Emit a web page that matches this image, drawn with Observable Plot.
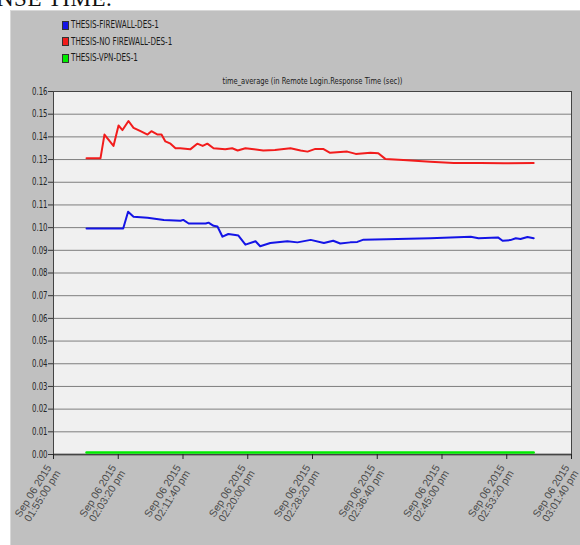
<!DOCTYPE html>
<html>
<head>
<meta charset="utf-8">
<script src="https://cdn.jsdelivr.net/npm/d3@7"></script>
<script src="https://cdn.jsdelivr.net/npm/@observablehq/plot@0.6"></script>
<style>
  html, body { margin: 0; padding: 0; background: #fff; }
  #page { position: relative; width: 580px; height: 545px; overflow: hidden; }
  #panel { position: absolute; left: 10px; top: 10px; right: 0; bottom: 0; background: #c0c0c0;
           border-left: 1px solid #d8d8d8; border-top: 1px solid #d8d8d8; }
  #head { position: absolute; left: -3px; top: -14px; font: 23px "Liberation Serif", serif; color: #111; letter-spacing: 0.5px; }
  #legend { position: relative; height: 72px; box-sizing: border-box; padding: 17px 0 0 62px;
            font-family: "Liberation Sans Narrow", "DejaVu Sans Condensed", sans-serif; font-size: 10px; color: #1a1a1a; }
  .row { height: 16.5px; line-height: 16.5px; display: flex; align-items: center; }
  .sw { width: 5px; height: 7px; border: 1px solid #333; margin-right: 2px; flex: none; }
  .lt { display: inline-block; transform: scaleX(0.8); transform-origin: 0 50%; white-space: nowrap; }
  #chart { position: relative; }
</style>
</head>
<body>
<div id="page">
  <div id="panel"></div>
  <div id="head">NSE TIME.</div>
  <div id="legend"></div>
  <div id="chart"></div>
</div>
<script>
// ---- data ----
const seriesNames = ["THESIS-FIREWALL-DES-1", "THESIS-NO FIREWALL-DES-1", "THESIS-VPN-DES-1"];
const seriesColors = ["#1414e6", "#f21c1c", "#00ec00"];
const chartTitle = "time_average (in Remote Login.Response Time (sec))";

// minutes after 01:55:00 pm
const firewallMin = [4.25, 8.97, 9.6, 10.3, 12.1, 14.2, 16.35, 16.7, 17.4, 19.6, 19.95, 20.6, 21.1, 21.75, 22.5, 23.4, 23.8, 24.7, 26.0, 26.6, 27.9, 30.1, 31.4, 33.1, 34.8, 36.0, 36.9, 38.2, 39.1, 39.9, 44.3, 48.5, 53.7, 54.7, 57.2, 57.8, 58.8, 59.5, 60.1, 61.0, 61.8];
const firewallVal = [0.0996, 0.0996, 0.107, 0.1048, 0.1044, 0.1034, 0.103, 0.1034, 0.1018, 0.1018, 0.1022, 0.1008, 0.1005, 0.096, 0.0972, 0.0967, 0.0965, 0.0925, 0.094, 0.0918, 0.0932, 0.094, 0.0935, 0.0946, 0.0932, 0.0942, 0.093, 0.0935, 0.0937, 0.0947, 0.095, 0.0953, 0.096, 0.0953, 0.0957, 0.0942, 0.0945, 0.0953, 0.095, 0.0959, 0.0953];

const noFirewallMin = [4.25, 6.05, 6.56, 7.72, 8.37, 8.88, 9.65, 10.3, 11.2, 12.1, 12.6, 13.4, 13.9, 14.4, 15.06, 15.7, 16.3, 17.6, 18.5, 19.2, 19.8, 20.6, 22.1, 23.0, 23.7, 24.7, 25.8, 27.0, 28.5, 30.5, 31.8, 32.7, 33.7, 34.7, 35.6, 37.8, 38.9, 40.8, 41.8, 42.7, 45.0, 48.5, 51.5, 55.0, 58.0, 61.8];
const noFirewallVal = [0.1306, 0.1306, 0.141, 0.136, 0.145, 0.143, 0.147, 0.144, 0.1425, 0.141, 0.1425, 0.141, 0.141, 0.138, 0.137, 0.135, 0.135, 0.1345, 0.137, 0.136, 0.137, 0.135, 0.1345, 0.135, 0.134, 0.135, 0.1345, 0.134, 0.1342, 0.135, 0.134, 0.1335, 0.1347, 0.1347, 0.133, 0.1335, 0.1325, 0.133, 0.1328, 0.1303, 0.1298, 0.129, 0.1285, 0.1285, 0.1284, 0.1285];

const vpnMin = [4.25, 61.8];
const vpnVal = [0.0009, 0.0009];

const tickDate = "Sep 06 2015";
const tickTimes = ["01:55:00 pm", "02:03:20 pm", "02:11:40 pm", "02:20:00 pm", "02:28:20 pm", "02:36:40 pm", "02:45:00 pm", "02:53:20 pm", "03:01:40 pm"];
const yTicks = [0, 0.01, 0.02, 0.03, 0.04, 0.05, 0.06, 0.07, 0.08, 0.09, 0.10, 0.11, 0.12, 0.13, 0.14, 0.15, 0.16];

// ---- build ----
const parse = d3.timeParse("%b %d %Y %I:%M:%S %p");
const xTicks = tickTimes.map(t => parse(tickDate + " " + t));
const base = xTicks[0];
const toDate = m => new Date(+base + m * 60000);

const mk = (mins, vals, s) => mins.map((m, i) => ({t: toDate(m), v: vals[i], s}));
const dFire = mk(firewallMin, firewallVal, seriesNames[0]);
const dNo = mk(noFirewallMin, noFirewallVal, seriesNames[1]);
const dVpn = mk(vpnMin, vpnVal, seriesNames[2]);

const legend = document.getElementById("legend");
seriesNames.forEach((n, i) => {
  const r = document.createElement("div");
  r.className = "row";
  r.innerHTML = `<span class="sw" style="background:${seriesColors[i]}"></span><span class="lt">${n}</span>`;
  legend.appendChild(r);
});

const narrow = '"Liberation Sans Narrow", "DejaVu Sans Condensed", sans-serif';
const labelOf = new Map(xTicks.map((d, i) => [+d, tickDate + "\n" + tickTimes[i]]));

const chart = Plot.plot({
  width: 580,
  height: 473,
  marginLeft: 53,
  marginRight: 9,
  marginTop: 19,
  marginBottom: 91,
  style: {background: "transparent", overflow: "visible", fontFamily: narrow},
  x: {type: "time", domain: [xTicks[0], xTicks[xTicks.length - 1]]},
  y: {domain: [0, 0.16]},
  color: {domain: seriesNames, range: seriesColors},
  marks: [
    Plot.frame({fill: "#f0f0f0"}),
    Plot.gridY(yTicks, {stroke: "#7e7e7e", strokeOpacity: 1}),
    Plot.ruleY([0], {stroke: "#000", strokeWidth: 1.5}),
    Plot.line(dNo, {x: "t", y: "v", stroke: "s", strokeWidth: 2}),
    Plot.line(dFire, {x: "t", y: "v", stroke: "s", strokeWidth: 2}),
    Plot.line(dVpn, {x: "t", y: "v", stroke: "s", strokeWidth: 2.5}),
    Plot.frame({stroke: "#444", strokeWidth: 1}),
    Plot.axisY(yTicks, {tickFormat: d3.format(".2f"), tickSize: 5, tickPadding: 1, fontSize: 10, fill: "#262626", stroke: "#333", label: null}),
    Plot.axisX(xTicks, {tickFormat: d => labelOf.get(+d), tickSize: 5, tickRotate: -58, tickPadding: 9,
      textAnchor: "end", lineAnchor: "middle", fontSize: 10.5, fill: "#4a4a4a", stroke: "#222", label: null,
      fontFamily: '"Liberation Sans", Arial, sans-serif'}),
    Plot.text([chartTitle], {frameAnchor: "top", dy: -10, fontSize: 9, fill: "#1a1a1a", lineAnchor: "middle"})
  ]
});
document.getElementById("chart").appendChild(chart);

// condense the narrow texts to the reference's widths
d3.select(chart).selectAll("text").each(function () {
  const t = this.textContent;
  if (t === chartTitle) {
    this.setAttribute("textLength", 180);
    this.setAttribute("lengthAdjust", "spacingAndGlyphs");
  }
});
d3.select(chart).selectAll('g[aria-label="y-axis tick label"] text').each(function () {
  this.setAttribute("textLength", 15.5);
  this.setAttribute("lengthAdjust", "spacingAndGlyphs");
});
</script>
</body>
</html>
